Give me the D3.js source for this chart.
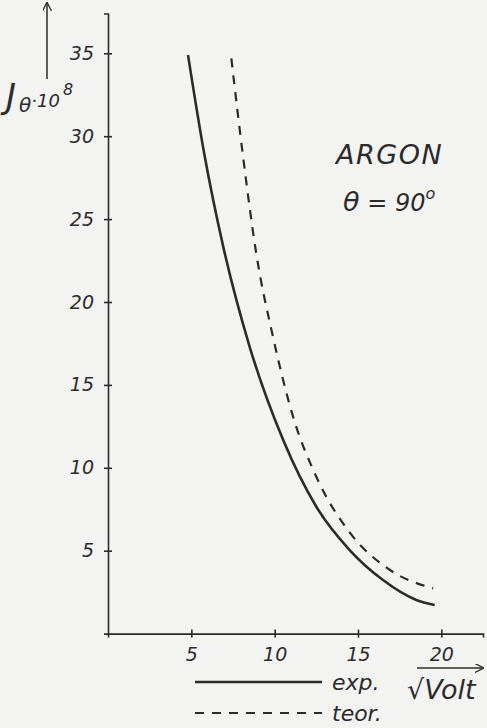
<!DOCTYPE html>
<html>
<head>
<meta charset="utf-8">
<script src="https://cdn.jsdelivr.net/npm/d3@7"></script>
<style>
  body { margin: 0; background: #f3f3f1; }
  svg { display: block; }
  text { font-family: "DejaVu Sans", sans-serif; font-style: italic; fill: #2b2b2b; }
</style>
</head>
<body>
<div id="chart"></div>
<script>
// values: sqrt(Volt) vs J_theta * 10^8
var expX = [4.8, 5.8, 6.9, 8.5, 10.5, 12.5, 14.5, 16.5, 18.5, 19.6];
var expY = [34.9, 28.8, 23.4, 17.3, 11.7, 7.65, 5.04, 3.23, 2.03, 1.72];

var teorX = [7.4, 8.1, 8.9, 9.9, 11.1, 12.5, 14.5, 16.9, 19.5];
var teorY = [34.7, 28.8, 22.9, 17.9, 13.1, 9.46, 6.1, 3.85, 2.73];

var xTicks = [5, 10, 15, 20];
var yTicks = [5, 10, 15, 20, 25, 30, 35];

var svgWidth = 487;
var svgHeight = 728;
var ink = "#2b2b2b";

var svg = d3.select("#chart")
  .append("svg")
  .attr("width", svgWidth)
  .attr("height", svgHeight);

var xScale = d3.scaleLinear().domain([0, 22.5]).range([108, 483]);
var yScale = d3.scaleLinear().domain([0, 37.4]).range([633.6, 13.5]);

// axes
var bottomAxis = d3.axisBottom(xScale).tickValues(xTicks).tickSize(4).tickPadding(10);
var leftAxis = d3.axisLeft(yScale).tickValues(yTicks).tickSize(4).tickPadding(10);

var gx = svg.append("g")
  .attr("transform", `translate(0, ${yScale(0)})`)
  .call(bottomAxis);
var gy = svg.append("g")
  .attr("transform", `translate(${xScale(0)}, 0)`)
  .call(leftAxis);

[gx, gy].forEach(function(g) {
  g.select(".domain").attr("stroke", ink).attr("stroke-width", 1.6);
  g.selectAll(".tick line").attr("stroke", ink).attr("stroke-width", 1.6);
  g.selectAll(".tick text")
    .attr("font-family", "DejaVu Sans")
    .attr("font-size", 19)
    .attr("fill", ink);
});
// ticks cross the axis
gx.selectAll(".tick line").attr("y1", -4).attr("y2", 4);
gy.selectAll(".tick line").attr("x1", -4).attr("x2", 4);

// curves
var lineGen = d3.line()
  .x(d => xScale(d[0]))
  .y(d => yScale(d[1]))
  .curve(d3.curveMonotoneX);

var expData = expX.map((x, i) => [x, expY[i]]);
var teorData = teorX.map((x, i) => [x, teorY[i]]);

svg.append("path")
  .datum(expData)
  .attr("d", lineGen)
  .attr("fill", "none")
  .attr("stroke", ink)
  .attr("stroke-width", 2.6);

svg.append("path")
  .datum(teorData)
  .attr("d", lineGen)
  .attr("fill", "none")
  .attr("stroke", ink)
  .attr("stroke-width", 2.2)
  .attr("stroke-dasharray", "9,8");

// arrow marker
svg.append("defs").append("marker")
  .attr("id", "arr")
  .attr("viewBox", "0 0 10 10")
  .attr("refX", 9).attr("refY", 5)
  .attr("markerWidth", 9).attr("markerHeight", 9)
  .attr("markerUnits", "userSpaceOnUse")
  .attr("orient", "auto")
  .append("path")
  .attr("d", "M0,0 L10,5 L0,10")
  .attr("fill", "none")
  .attr("stroke", ink)
  .attr("stroke-width", 1.4);

// y label with arrow
svg.append("line")
  .attr("x1", 47).attr("y1", 79).attr("x2", 47).attr("y2", 3)
  .attr("stroke", ink).attr("stroke-width", 1.5)
  .attr("marker-end", "url(#arr)");

var yLab = svg.append("text").attr("x", 6).attr("y", 108);
yLab.append("tspan").attr("font-size", 34).text("J");
yLab.append("tspan").attr("font-size", 20).attr("dy", 4).attr("dx", 3).text("θ");
yLab.append("tspan").attr("font-size", 18).attr("dy", -5).text("·10");
yLab.append("tspan").attr("font-size", 16).attr("dy", -12).attr("dx", 3).text("8");

// x label with arrow
svg.append("line")
  .attr("x1", 417).attr("y1", 668).attr("x2", 483).attr("y2", 668)
  .attr("stroke", ink).attr("stroke-width", 1.5)
  .attr("marker-end", "url(#arr)");
svg.append("text")
  .attr("x", 407).attr("y", 699)
  .attr("font-size", 27)
  .text("√Volt");

// annotation
svg.append("text")
  .attr("x", 336).attr("y", 164)
  .attr("font-size", 27)
  .attr("letter-spacing", 1.5)
  .text("ARGON");
var theta = svg.append("text").attr("x", 343).attr("y", 211).attr("font-size", 24);
theta.append("tspan").attr("font-size", 27).text("θ");
theta.append("tspan").text(" = 90");
theta.append("tspan").attr("font-size", 16).attr("dy", -12).text("o");

// legend
var legendNames = ["exp.", "teor."];
var legendDash = ["none", "9,8"];
var legendY = [682, 713];

legendNames.forEach(function(name, i) {
  svg.append("line")
    .attr("x1", 195).attr("x2", 322)
    .attr("y1", legendY[i]).attr("y2", legendY[i])
    .attr("stroke", ink)
    .attr("stroke-width", i === 0 ? 2.6 : 2)
    .attr("stroke-dasharray", legendDash[i]);
  svg.append("text")
    .attr("x", 332).attr("y", legendY[i] + 8)
    .attr("font-size", 22)
    .text(name);
});
</script>
</body>
</html>
